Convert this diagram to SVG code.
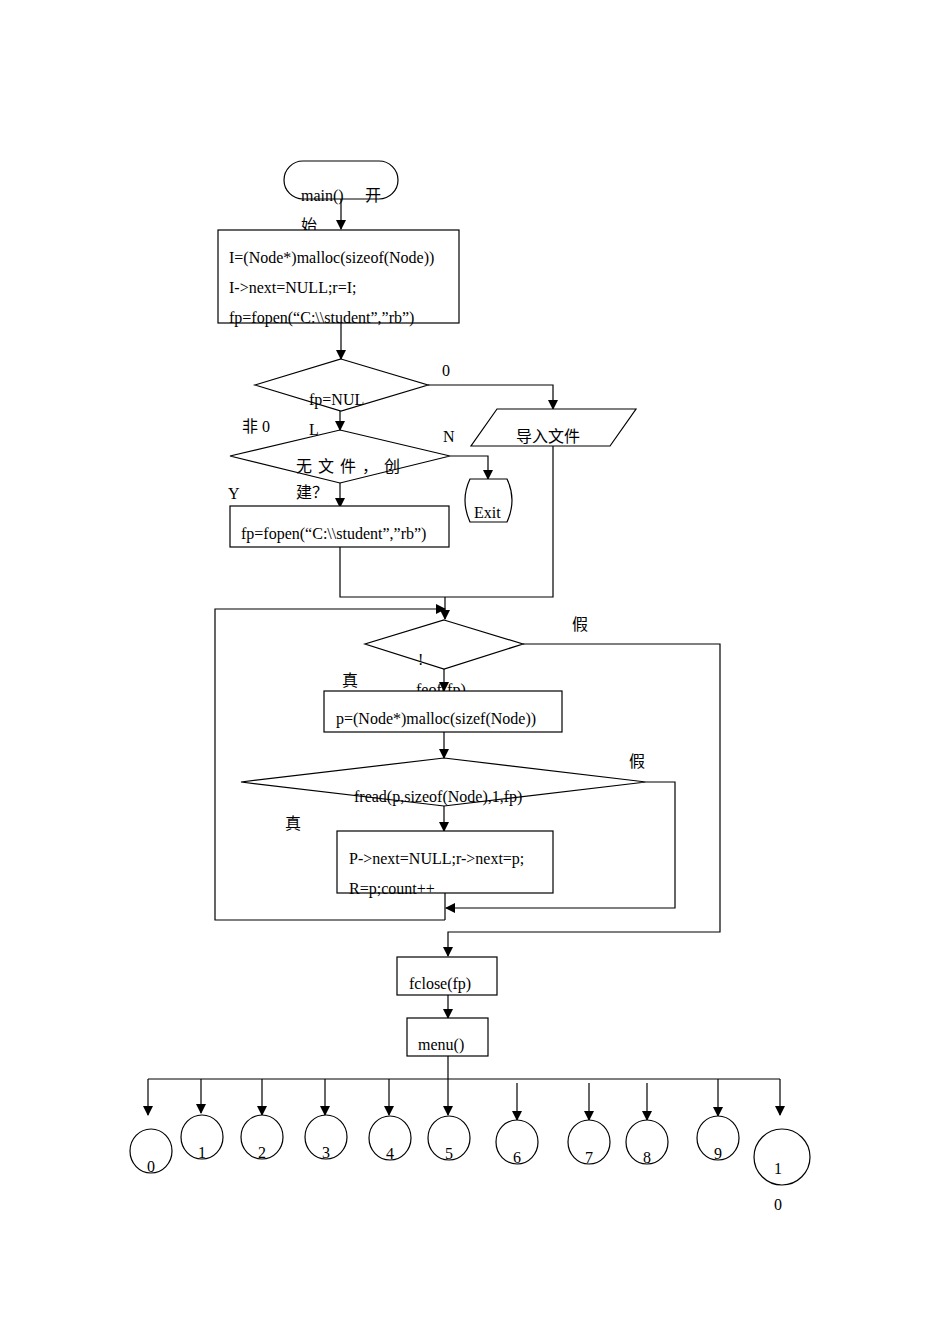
<svg xmlns="http://www.w3.org/2000/svg" width="950" height="1344" viewBox="0 0 950 1344">
<style>
.s{fill:#fff;stroke:#000;stroke-width:1.2}
.l{fill:none;stroke:#000;stroke-width:1.2}
text{font-family:"Liberation Serif","Noto Sans CJK SC",serif;font-size:16px;fill:#000}
</style>
<defs><marker id="a" markerWidth="10" markerHeight="10" refX="9" refY="5" orient="auto" markerUnits="userSpaceOnUse"><path d="M0,0L10,5L0,10z"/></marker></defs>
<rect width="950" height="1344" fill="#fff"/>
<g id="connectors" class="l" marker-end="url(#a)">
<path d="M341,199V229"/>
<path d="M341,323V359"/>
<path d="M428,385H553V409"/>
<path d="M340,411V430"/>
<path d="M450,456H488V479"/>
<path d="M340,483V507"/>
<path d="M340,547V597H553V446" marker-end="none"/>
<path d="M445,597V619"/>
<path d="M445,920H215V609H445"/>
<path d="M523,644H720V932H448V956"/>
<path d="M444,669V691"/>
<path d="M444,732V758"/>
<path d="M646,782H675V908H446"/>
<path d="M444,806V831"/>
<path d="M445,893V920" marker-end="none"/>
<path d="M448,995V1018"/>
<path d="M448,1056V1115"/>
<path d="M148,1079H780" marker-end="none"/>
<path d="M148,1079V1115"/><path d="M201,1079V1113"/><path d="M262,1079V1115"/><path d="M325,1079V1115"/><path d="M389,1079V1115"/>
<path d="M517,1083V1120"/><path d="M589,1083V1120"/><path d="M647,1083V1120"/><path d="M718,1079V1116"/><path d="M780,1079V1115"/>
</g>
<g id="start"><rect class="s" x="284" y="161" width="114" height="38" rx="19"/><text x="301" y="201">main()</text><text x="365" y="201">开</text><text x="301" y="231">始</text></g>
<g id="init"><rect class="s" x="218" y="230" width="241" height="93"/><text x="229" y="263">I=(Node*)malloc(sizeof(Node))</text><text x="229" y="293">I-&gt;next=NULL;r=I;</text><text x="229" y="323">fp=fopen(“C:\\student”,”rb”)</text></g>
<g id="d1"><path class="s" d="M341,359L428,385L341,411L255,385Z"/><text x="309" y="405">fp=NUL</text><text x="309" y="435">L</text><text x="442" y="376">0</text><text x="242" y="432">非 0</text></g>
<g id="import"><path class="s" d="M497,409H636L610,446H471Z"/><text x="516" y="442">导入文件</text></g>
<g id="d2"><path class="s" d="M340,430L450,456L340,483L230,456Z"/><text x="296" y="472" font-size="13" letter-spacing="6">无文件，创</text><text x="296" y="498" font-size="13">建？</text><text x="443" y="442">N</text><text x="228" y="499">Y</text></g>
<g id="exit"><path class="s" d="M470,479H507Q517,500 507,522H470Q460,500 470,479Z"/><text x="474" y="518">Exit</text></g>
<g id="create"><rect class="s" x="230" y="506" width="219" height="41"/><text x="241" y="539">fp=fopen(“C:\\student”,”rb”)</text></g>
<g id="d3"><path class="s" d="M444,620L523,644L444,669L365,644Z"/><text x="418" y="665">!</text><text x="416" y="695">feof(fp)</text><text x="572" y="630">假</text><text x="342" y="686">真</text></g>
<g id="alloc"><rect class="s" x="324" y="691" width="238" height="41"/><text x="336" y="724">p=(Node*)malloc(sizef(Node))</text></g>
<g id="d4"><path class="s" d="M444,758L646,782L444,806L241,782Z"/><text x="354" y="802">fread(p,sizeof(Node),1,fp)</text><text x="629" y="767">假</text><text x="285" y="829">真</text></g>
<g id="link"><rect class="s" x="337" y="831" width="216" height="62"/><text x="349" y="864">P-&gt;next=NULL;r-&gt;next=p;</text><text x="349" y="894">R=p;count++</text></g>
<g id="fclose"><rect class="s" x="397" y="957" width="100" height="38"/><text x="409" y="989">fclose(fp)</text></g>
<g id="menu"><rect class="s" x="407" y="1018" width="81" height="38"/><text x="418" y="1050">menu()</text></g>
<g id="c0"><ellipse class="s" cx="151" cy="1151" rx="21" ry="22"/><text x="147" y="1172">0</text></g>
<g id="c1"><ellipse class="s" cx="202" cy="1137" rx="21" ry="22"/><text x="198" y="1158">1</text></g>
<g id="c2"><ellipse class="s" cx="262" cy="1137" rx="21" ry="22"/><text x="258" y="1158">2</text></g>
<g id="c3"><ellipse class="s" cx="326" cy="1137" rx="21" ry="22"/><text x="322" y="1158">3</text></g>
<g id="c4"><ellipse class="s" cx="390" cy="1138" rx="21" ry="22"/><text x="386" y="1159">4</text></g>
<g id="c5"><ellipse class="s" cx="449" cy="1138" rx="21" ry="22"/><text x="445" y="1159">5</text></g>
<g id="c6"><ellipse class="s" cx="517" cy="1142" rx="21" ry="22"/><text x="513" y="1163">6</text></g>
<g id="c7"><ellipse class="s" cx="589" cy="1142" rx="21" ry="22"/><text x="585" y="1163">7</text></g>
<g id="c8"><ellipse class="s" cx="647" cy="1142" rx="21" ry="22"/><text x="643" y="1163">8</text></g>
<g id="c9"><ellipse class="s" cx="718" cy="1138" rx="21" ry="22"/><text x="714" y="1159">9</text></g>
<g id="c10"><ellipse class="s" cx="782" cy="1157" rx="28" ry="28"/><text x="774" y="1174">1</text><text x="774" y="1210">0</text></g>
</svg>
